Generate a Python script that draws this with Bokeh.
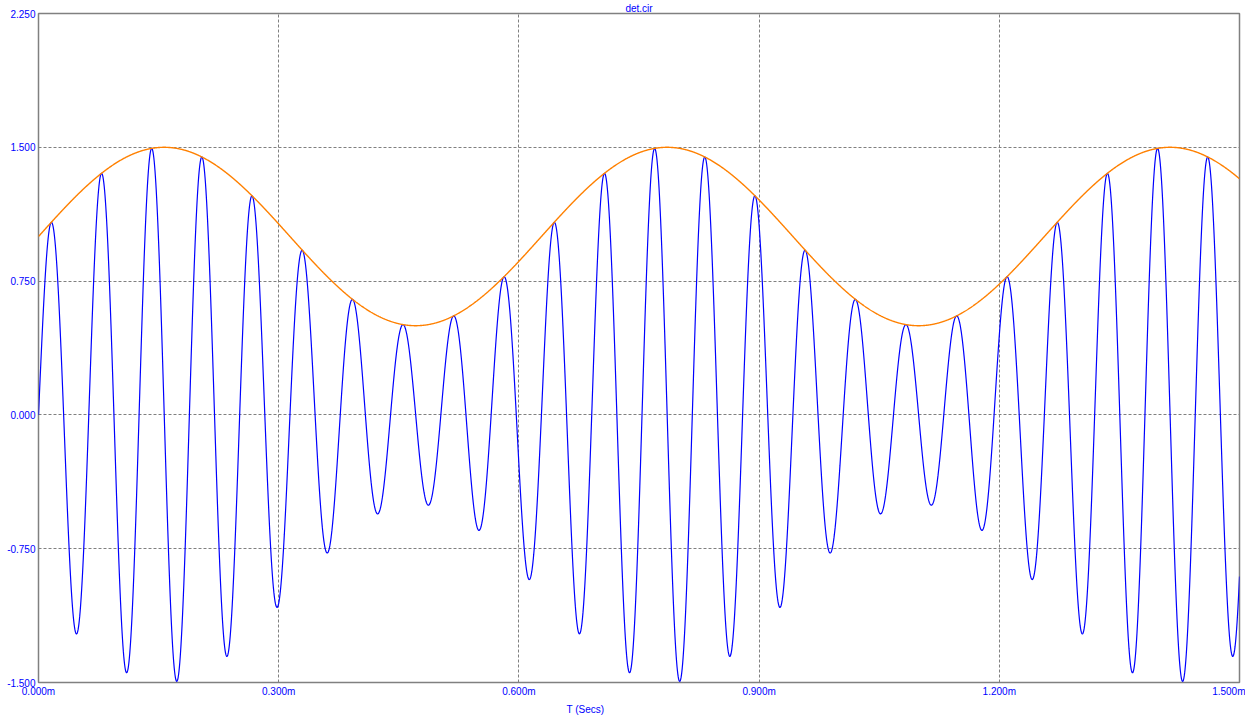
import numpy as np
from bokeh.plotting import figure
from bokeh.models import Range1d, FixedTicker, CustomJSTickFormatter, NumeralTickFormatter, Title
from bokeh.embed import file_html
from bokeh.resources import INLINE

# ---- chart texts / ticks ----
title_text = "det.cir"
x_label = "T (Secs)"
x_ticks_ms = [0.0, 0.3, 0.6, 0.9, 1.2, 1.5]
y_ticks = [-1.5, -0.75, 0.0, 0.75, 1.5, 2.25]

# ---- signal parameters (AM waveform of det.cir) ----
carrier_khz = 15.92      # blue trace: ~24 carrier cycles over 1.5 ms
mod_khz = 1.592          # orange envelope: peaks near 0.157m, 0.785m, 1.413m
dc_level = 1.0           # envelope mean
mod_depth = 0.5          # envelope swings 0.5 .. 1.5
t_end_ms = 1.5
n_samples = 3001

t_ms = np.linspace(0.0, t_end_ms, n_samples)
envelope = dc_level + mod_depth * np.sin(2 * np.pi * mod_khz * t_ms)
signal = envelope * np.sin(2 * np.pi * carrier_khz * t_ms)

FONT = "Liberation Sans"
BLUE = "#0000FF"
GRAY = "#808080"

p = figure(width=1245, height=716, output_backend="svg", toolbar_location=None,
           x_range=Range1d(0, 1.5), y_range=Range1d(-1.5, 2.25),
           min_border_left=38, min_border_right=6, min_border_top=0, min_border_bottom=4)

p.title.text = title_text
p.title.align = "center"
p.title.text_font = FONT
p.title.text_font_size = "10px"
p.title.text_font_style = "normal"
p.title.text_color = BLUE
p.title.standoff = 0

p.line(t_ms, signal, line_color=BLUE, line_width=1.2)
p.line(t_ms, envelope, line_color="#FF8000", line_width=1.4)

p.outline_line_color = GRAY
p.outline_line_width = 1.5
p.background_fill_color = "white"
p.border_fill_color = "white"

for ax in (p.xaxis[0], p.yaxis[0]):
    ax.axis_line_color = None
    ax.major_tick_out = 0
    ax.major_tick_in = 0
    ax.minor_tick_out = 0
    ax.minor_tick_in = 0
    ax.major_label_text_font = FONT
    ax.major_label_text_font_size = "10px"
    ax.major_label_text_color = BLUE
    ax.major_label_standoff = 3

p.xaxis[0].ticker = FixedTicker(ticks=x_ticks_ms)
p.xaxis[0].formatter = CustomJSTickFormatter(code="return tick.toFixed(3) + 'm';")
p.yaxis[0].ticker = FixedTicker(ticks=y_ticks)
p.yaxis[0].formatter = NumeralTickFormatter(format="0.000")

for g in (p.xgrid[0], p.ygrid[0]):
    g.grid_line_color = GRAY
    g.grid_line_dash = "3 2"
    g.grid_line_width = 1

xl = Title(text=x_label, align="left", offset=528, text_font=FONT,
           text_font_size="10px", text_font_style="normal", text_color=BLUE, standoff=4)
p.add_layout(xl, "below")

open("out.html", "w").write(file_html(p, INLINE))
